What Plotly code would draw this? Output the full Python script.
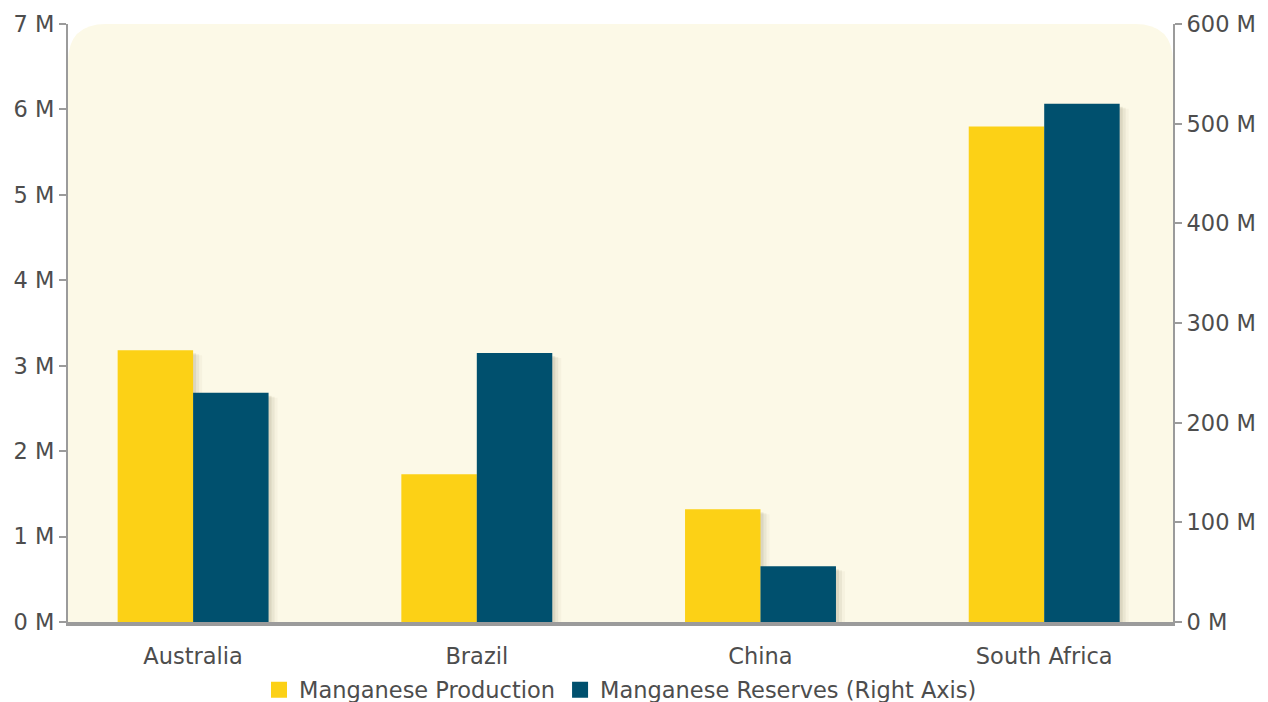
import plotly.graph_objects as go

# Manganese data by country
countries = ["Australia", "Brazil", "China", "South Africa"]
production = [3.18e6, 1.73e6, 1.32e6, 5.8e6]        # left axis
reserves = [230e6, 270e6, 56e6, 520e6]              # right axis

left_ticks = [0, 1e6, 2e6, 3e6, 4e6, 5e6, 6e6, 7e6]
left_labels = ["0 M", "1 M", "2 M", "3 M", "4 M", "5 M", "6 M", "7 M"]
right_ticks = [0, 100e6, 200e6, 300e6, 400e6, 500e6, 600e6]
right_labels = ["0 M", "100 M", "200 M", "300 M", "400 M", "500 M", "600 M"]

YELLOW = "#FCD116"
BLUE = "#00506E"
BG = "#FCF9E7"
AXIS = "#9B9B9B"
TEXT = "#4D4D4D"
FONT = "DejaVu Sans"
FS = 22.5

W, H = 1268, 702
M_L, M_R, M_T, M_B = 68, 95, 24, 80
plot_w = W - M_L - M_R
plot_h = H - M_T - M_B

x_range = [-0.441, 3.454]
bar_w = 0.266
px_x = (x_range[1] - x_range[0]) / plot_w
px_y1 = 7e6 / plot_h
px_y2 = 600e6 / plot_h

fig = go.Figure()

# soft drop shadows behind each bar (layered for a blurred look)
shadow_layers = [(3, 3, 0.10), (6, 4, 0.07), (9, 5, 0.04)]
for dx, dy, a in shadow_layers:
    fig.add_trace(go.Bar(
        x=countries, y=[max(v - dy * px_y1, 0) for v in production],
        width=bar_w, offset=-bar_w + dx * px_x,
        marker=dict(color=f"rgba(90,80,40,{a})", line_width=0),
        showlegend=False, hoverinfo="skip", yaxis="y"))
fig.add_trace(go.Bar(
    x=countries, y=production, name="Manganese Production",
    width=bar_w, offset=-bar_w, showlegend=False,
    marker=dict(color=YELLOW, line_width=0), yaxis="y"))

for dx, dy, a in shadow_layers:
    fig.add_trace(go.Bar(
        x=countries, y=[max(v - dy * px_y2, 0) for v in reserves],
        width=bar_w, offset=dx * px_x,
        marker=dict(color=f"rgba(90,80,40,{a})", line_width=0),
        showlegend=False, hoverinfo="skip", yaxis="y2"))
fig.add_trace(go.Bar(
    x=countries, y=reserves, name="Manganese Reserves (Right Axis)",
    width=bar_w, offset=0, showlegend=False,
    marker=dict(color=BLUE, line_width=0), yaxis="y2"))

# legend entries with larger square swatches
for name, color in [("Manganese Production", YELLOW),
                    ("Manganese Reserves (Right Axis)", BLUE)]:
    fig.add_trace(go.Scatter(
        x=[None], y=[None], mode="markers", name=name,
        marker=dict(symbol="square", size=17, color=color),
        hoverinfo="skip"))

# cream plot background with rounded top corners
r = 38
rx, ry = r / plot_w, r / plot_h
bg_path = (f"M 0,0 L 0,{1 - ry} Q 0,1 {rx},1 L {1 - rx},1 "
           f"Q 1,1 1,{1 - ry} L 1,0 Z")

fig.update_layout(
    width=W, height=H,
    margin=dict(l=M_L, r=M_R, t=M_T, b=M_B, autoexpand=False),
    paper_bgcolor="white",
    plot_bgcolor="rgba(0,0,0,0)",
    barmode="overlay",
    font=dict(family=FONT, size=FS, color=TEXT),
    shapes=[dict(type="path", path=bg_path, xref="paper", yref="paper",
                 fillcolor=BG, line_width=0, layer="below")],
    xaxis=dict(
        range=x_range, showgrid=False, zeroline=False,
        showline=True, linecolor=AXIS, linewidth=4,
        ticks="", ticklabelstandoff=11,
        tickfont=dict(size=FS, color=TEXT)),
    yaxis=dict(
        range=[0, 7e6], tickvals=left_ticks, ticktext=left_labels,
        showgrid=False, zeroline=False,
        showline=True, linecolor=AXIS, linewidth=2,
        ticks="outside", ticklen=7, tickcolor=AXIS, tickwidth=2,
        tickfont=dict(size=FS, color=TEXT)),
    yaxis2=dict(
        range=[0, 600e6], tickvals=right_ticks, ticktext=right_labels,
        overlaying="y", side="right",
        showgrid=False, zeroline=False,
        showline=True, linecolor=AXIS, linewidth=2,
        ticks="outside", ticklen=7, tickcolor=AXIS, tickwidth=2,
        tickfont=dict(size=FS, color=TEXT)),
    legend=dict(
        orientation="h", x=0.5, xanchor="center",
        y=-68 / plot_h, yanchor="middle",
        font=dict(size=FS, color=TEXT),
        bgcolor="rgba(0,0,0,0)", itemclick=False, tracegroupgap=0),
)

fig.write_html("out.html")
